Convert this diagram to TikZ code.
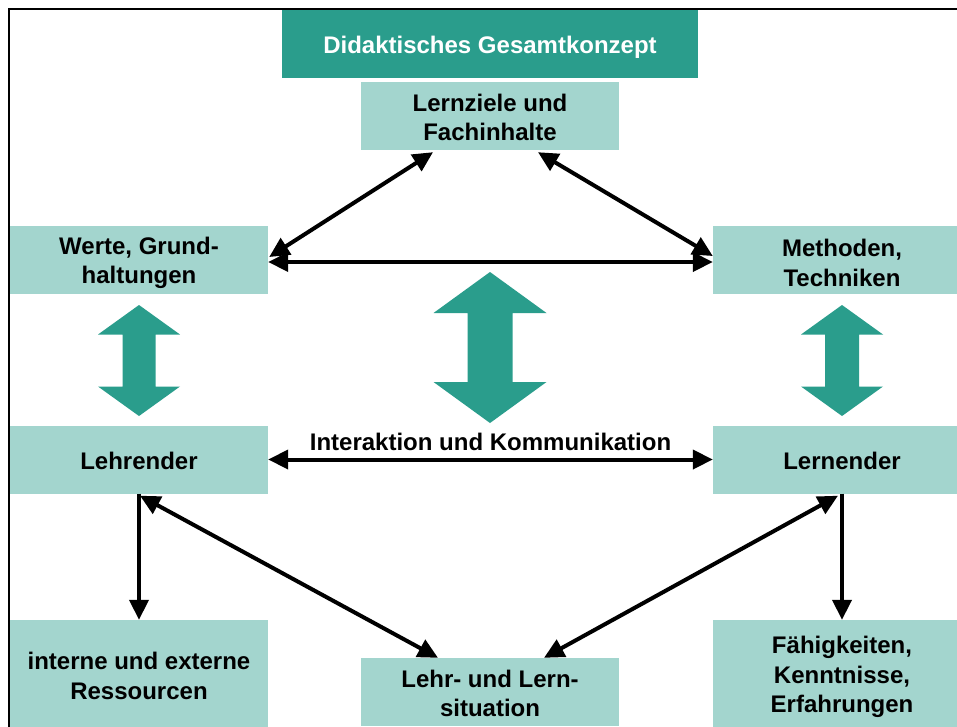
\documentclass[tikz,border=0pt]{standalone}
\usepackage{fontspec}
\setmainfont{Liberation Sans}
\usetikzlibrary{arrows.meta,calc}
\definecolor{dteal}{HTML}{2A9D8C}
\definecolor{lteal}{HTML}{A3D5CE}
\newcommand\txtdown[1]{\rule{0pt}{\dimexpr 17.4pt+2\dimexpr #1\relax\relax}}
\tikzset{
  pics/bigarr/.style n args={4}{code={
    \fill[dteal] (0,-#1) -- (#3,{-#1+#2}) -- (#4,{-#1+#2}) -- (#4,{#1-#2}) -- (#3,{#1-#2})
      -- (0,#1) -- (-#3,{#1-#2}) -- (-#4,{#1-#2}) -- (-#4,{-#1+#2}) -- (-#3,{-#1+#2}) -- cycle;
  }}
}
\begin{document}
\begin{tikzpicture}[x=1pt,y=-1pt,
  box/.style={fill=lteal, minimum width=258pt, minimum height=68pt, inner sep=0pt,
    align=center, font=\fontsize{24}{29.5}\selectfont\bfseries},
  tbox/.style={box, fill=dteal, text=white, minimum width=416pt},
  tip/.tip={Triangle[length=20pt,width=19pt]},
  link/.style={line width=4pt, tip-tip},
  onelink/.style={line width=4pt, -tip},
  lbl/.style={inner sep=0pt, font=\fontsize{24}{29.5}\selectfont\bfseries}
]
\useasboundingbox (0,0) rectangle (957,726);
\clip (0,0) rectangle (957,726);
\fill[white] (0,0) rectangle (957,726);
\draw[line width=2.5pt] (9,740) -- (9,9) -- (970,9);

% big teal arrows
\pic at (139,360.5) {bigarr={55.5}{29.5}{41}{16.5}};
\pic at (842,360.5) {bigarr={55.5}{29.5}{41}{17}};
\pic at (490,347.5) {bigarr={75.5}{41}{56.5}{22.5}};

% boxes
\node[tbox] (title) at (490,44) {\txtdown{3pt}Didaktisches Gesamtkonzept};
\node[box] (lz) at (490,116) {\txtdown{1.5pt}Lernziele und\\Fachinhalte};
\node[box] (werte) at (139,260) {\txtdown{3pt}Werte, Grund-\\haltungen};
\node[box] (meth) at (842,260) {\txtdown{3pt}Methoden,\\Techniken};
\node[box] (lehrender) at (139,459.5) {\txtdown{1pt}Lehrender};
\node[box] (lernender) at (842,459.5) {\txtdown{1pt}Lernender};
\node[box, minimum height=110pt] (res) at (139,675) {\txtdown{1pt}interne und externe\\Ressourcen};
\node[box, minimum height=110pt] (faeh) at (842,675) {\txtdown{2pt}Fähigkeiten,\\Kenntnisse,\\Erfahrungen};
\node[box] (lehr) at (490,692) {\txtdown{1.5pt}Lehr- und Lern-\\situation};

% connectors
\draw[link] ($(lz.south)+(-57,2)$) -- ($(werte.east)+(1,-3)$);
\draw[link] ($(lz.south)+(48,2)$) -- ($(meth.west)+(0,-4)$);
\draw[link] ($(werte.east)+(0,2)$) -- ($(meth.west)+(0,2)$);
\draw[link] (lehrender.east) -- node[lbl, midway, above=7pt] (ik) {Interaktion und Kommunikation} (lernender.west);
\draw[onelink] (lehrender.south) -- (res.north);
\draw[onelink] (lernender.south) -- (faeh.north);
\draw[link] ($(lehrender.south)+(1,2)$) -- ($(lehr.north)+(-52,0)$);
\draw[link] ($(lernender.south)+(-4,2)$) -- ($(lehr.north)+(54,0)$);
\end{tikzpicture}
\end{document}
